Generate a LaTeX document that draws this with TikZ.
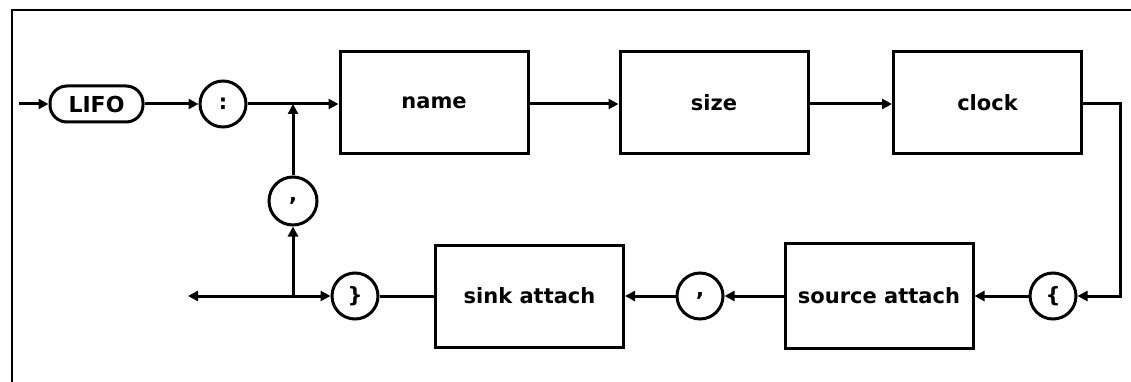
\documentclass[tikz,border=0pt]{standalone}
\usepackage{fontspec}
\setmainfont{DejaVu Sans}
\usetikzlibrary{arrows.meta}
\tikzset{
  lw/.style={line width=3pt},
  arr/.style={lw,-{Triangle[length=10pt,width=10pt]}},
  txt/.style={font=\fontsize{21}{25}\selectfont\bfseries},
  box/.style={draw,lw,rectangle,minimum width=188pt,minimum height=102pt,inner sep=0pt,txt},
  term/.style={draw,lw,circle,minimum size=46pt,inner sep=0pt,txt},
  pill/.style={draw,lw,rectangle,rounded corners=17pt,minimum width=93pt,minimum height=36pt,inner sep=0pt,font=\fontsize{22}{26}\selectfont\bfseries},
}
\begin{document}
\begin{tikzpicture}[x=1pt,y=-1pt]
\useasboundingbox (0,0) rectangle (1131,382);
% frame (top and left edges)
\draw[line width=2pt] (1131,10) -- (12,10) -- (12,382);
% nodes
\node[pill] (lifo) at (96.5,104) {LIFO};
\node[term] (colon) at (223,104) {:};
\node[box] (name) at (434,103) {name};
\node[box] (size) at (714,103) {size};
\node[box] (clock) at (987.5,103) {clock};
\node[term] (lbrace) at (1053,296) {\{};
\node[box,minimum height=105pt] (source) at (879,296) {source attach};
\node[term] (comma2) at (700,296) {,};
\node[box] (sink) at (529.5,296) {sink attach};
\node[term] (rbrace) at (355,296) {\}};
\node[term,minimum size=48pt] (comma1) at (293,201) {,};
\coordinate (entry) at (19,104);
\coordinate (topj) at (293,104);
\coordinate (botj) at (293,296);
\coordinate (exit) at (188,296);
\coordinate (cornerA) at (1120,104);
\coordinate (cornerB) at (1120,296);
% connectors
\draw[arr] (entry) -- (lifo);
\draw[arr] (lifo) -- (colon);
\draw[arr] (colon) -- (name.west |- colon);
\draw[arr] (name.east |- colon) -- (size.west |- colon);
\draw[arr] (size.east |- colon) -- (clock.west |- colon);
\draw[arr] (clock.east |- cornerA) -- (cornerA) -- (cornerB) -- (lbrace);
\draw[arr] (lbrace) -- (source);
\draw[arr] (source) -- (comma2);
\draw[arr] (comma2) -- (sink);
\draw[lw] (sink) -- (rbrace);
\draw[arr] (botj) -- (rbrace);
\draw[arr] (botj) -- (exit);
\draw[arr] (botj) -- (comma1);
\draw[arr] (comma1) -- (topj);
\end{tikzpicture}
\end{document}
